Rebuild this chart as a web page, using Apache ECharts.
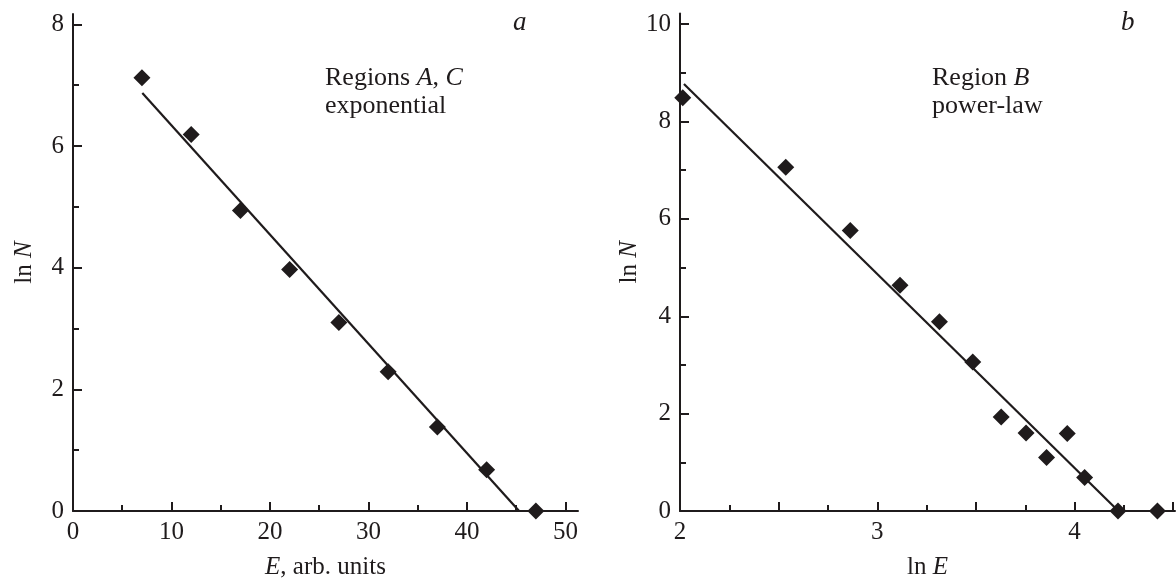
<!DOCTYPE html>
<html>
<head>
<meta charset="utf-8">
<script src="https://cdn.jsdelivr.net/npm/echarts@6/dist/echarts.min.js"></script>
<style>
html,body{margin:0;padding:0;background:#fff;}
#chart{width:1176px;height:585px;}
</style>
</head>
<body>
<div id="chart"></div>
<script>
// Panel a: Regions A, C (exponential)
const energyA = [7, 12, 17, 22, 27, 32, 37, 42, 47];
const lnNA = [7.12, 6.19, 4.94, 3.97, 3.10, 2.29, 1.38, 0.68, 0.0];
const fitA = [[7.04, 6.87], [45.3, 0]];
// Panel b: Region B (power-law)
const lnEB = [2.014, 2.536, 2.863, 3.115, 3.315, 3.484, 3.628, 3.754, 3.858, 3.963, 4.051, 4.22, 4.42];
const lnNB = [8.49, 7.06, 5.76, 4.64, 3.89, 3.06, 1.93, 1.60, 1.10, 1.59, 0.69, 0.0, 0.0];
const fitB = [[2.02, 8.77], [4.222, 0]];

// ticks
const xMajorA = [0, 10, 20, 30, 40, 50];
const xMinorA = [5, 15, 25, 35, 45];
const yMajorA = [0, 2, 4, 6, 8];
const yMinorA = [1, 3, 5, 7];
const xMajorB = [2, 2.5, 3, 3.5, 4, 4.5];
const xLabelsB = [2, 3, 4];
const xMinorB = [2.25, 2.75, 3.25, 3.75, 4.25];
const yMajorB = [0, 2, 4, 6, 8, 10];
const yMinorB = [1, 3, 5, 7, 9];

const INK = '#1f1b1c';
const FONT = 'Liberation Serif';

function zip(a, b) { return a.map((v, i) => [v, b[i]]); }

function mainAxis(gridIndex, min, max, majors, labels, name, gap, pos) {
  return {
    type: 'value', gridIndex, min, max, position: pos,
    axisLine: { show: true, onZero: false, lineStyle: { color: INK, width: 2 } },
    axisTick: { show: true, inside: true, length: 9, customValues: majors, lineStyle: { color: INK, width: 2 } },
    axisLabel: { show: true, customValues: labels, margin: 9, color: INK, fontFamily: FONT, fontSize: 25 },
    splitLine: { show: false },
    name: name, nameLocation: 'middle', nameGap: gap,
    nameTextStyle: {
      color: INK, fontFamily: FONT, fontSize: 25,
      rich: {
        n: { fontFamily: FONT, fontSize: 25, color: INK },
        i: { fontFamily: FONT, fontSize: 25, color: INK, fontStyle: 'italic' }
      }
    }
  };
}
function minorAxis(gridIndex, min, max, minors, pos) {
  return {
    type: 'value', gridIndex, min, max, position: pos,
    axisLine: { show: false, onZero: false },
    axisTick: { show: true, inside: true, length: 6, customValues: minors, lineStyle: { color: INK, width: 2 } },
    axisLabel: { show: false },
    splitLine: { show: false }
  };
}

const chart = echarts.init(document.getElementById('chart'), null, { renderer: 'canvas' });
chart.setOption({
  backgroundColor: '#ffffff',
  animation: false,
  grid: [
    { left: 73, top: 14, width: 505, bottom: 68.3 },
    { left: 680, top: 13.5, width: 495, bottom: 68.3 }
  ],
  xAxis: [
    mainAxis(0, 0, 51.28, xMajorA, xMajorA, '{i|E}{n|, arb. units}', 44, 'bottom'),
    minorAxis(0, 0, 51.28, xMinorA, 'bottom'),
    mainAxis(1, 2, 4.509, xMajorB, xLabelsB, '{n|ln }{i|E}', 44, 'bottom'),
    minorAxis(1, 2, 4.509, xMinorB, 'bottom')
  ],
  yAxis: [
    mainAxis(0, 0, 8.17, yMajorA, yMajorA, '{n|ln }{i|N}', 36, 'left'),
    minorAxis(0, 0, 8.17, yMinorA, 'left'),
    mainAxis(1, 0, 10.22, yMajorB, yMajorB, '{n|ln }{i|N}', 37, 'left'),
    minorAxis(1, 0, 10.22, yMinorB, 'left')
  ],
  graphic: [
    { type: 'text', left: 325, top: 65, style: {
        text: '{n|Regions }{i|A}{n|, }{i|C}\n{n|exponential}',
        rich: {
          n: { fontFamily: FONT, fontSize: 26, lineHeight: 28.5, fill: INK },
          i: { fontFamily: FONT, fontSize: 26, lineHeight: 28.5, fill: INK, fontStyle: 'italic' }
        } } },
    { type: 'text', left: 513, top: 9, style: { text: 'a', font: 'italic 27px "Liberation Serif"', fill: INK } },
    { type: 'text', left: 932, top: 65, style: {
        text: '{n|Region }{i|B}\n{n|power-law}',
        rich: {
          n: { fontFamily: FONT, fontSize: 26, lineHeight: 28.5, fill: INK },
          i: { fontFamily: FONT, fontSize: 26, lineHeight: 28.5, fill: INK, fontStyle: 'italic' }
        } } },
    { type: 'text', left: 1121, top: 9, style: { text: 'b', font: 'italic 27px "Liberation Serif"', fill: INK } }
  ],
  series: [
    { type: 'line', xAxisIndex: 0, yAxisIndex: 0, data: fitA, showSymbol: false, symbol: 'none',
      lineStyle: { color: INK, width: 2.2 }, z: 2, silent: true },
    { type: 'scatter', xAxisIndex: 0, yAxisIndex: 0, data: zip(energyA, lnNA), symbol: 'diamond',
      symbolSize: 17, itemStyle: { color: INK, opacity: 1 }, z: 3 },
    { type: 'line', xAxisIndex: 2, yAxisIndex: 2, data: fitB, showSymbol: false, symbol: 'none',
      lineStyle: { color: INK, width: 2.2 }, z: 2, silent: true },
    { type: 'scatter', xAxisIndex: 2, yAxisIndex: 2, data: zip(lnEB, lnNB), symbol: 'diamond',
      symbolSize: 17, itemStyle: { color: INK, opacity: 1 }, z: 3 }
  ]
});
</script>
</body>
</html>
